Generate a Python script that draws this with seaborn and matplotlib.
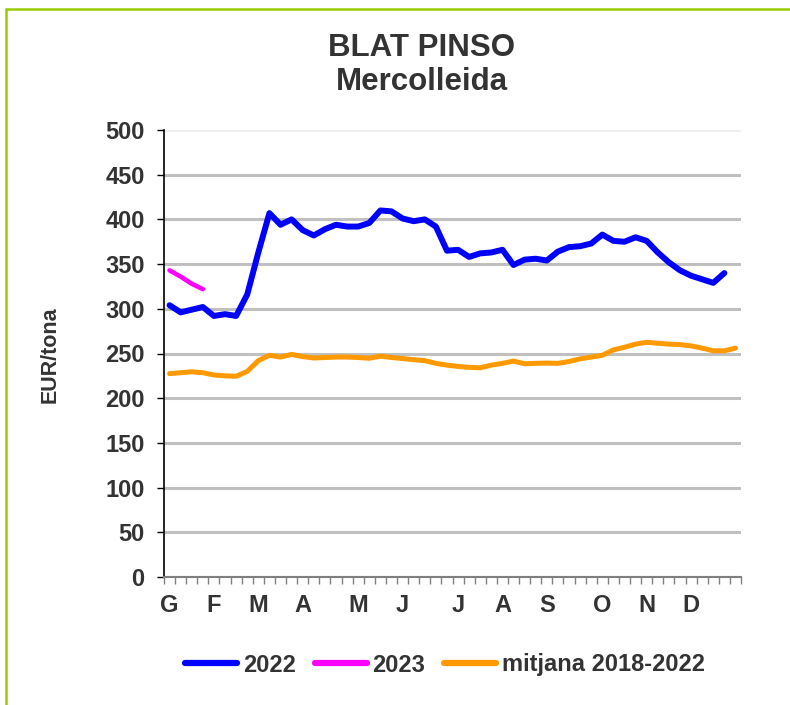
import pandas as pd
import matplotlib
matplotlib.use('Agg')
import matplotlib.pyplot as plt
from matplotlib.lines import Line2D
import seaborn as sns

# weekly prices, EUR/tona (week 0 = first week of January)
preu_2022 = [304, 296, 299, 302, 292, 294, 292, 316, 363, 407,
             394, 400, 388, 382, 389, 394, 392, 392, 396, 410,
             409, 401, 398, 400, 392, 365, 366, 358, 362, 363,
             366, 349, 355, 356, 354, 364, 369, 370, 373, 383,
             376, 375, 380, 376, 363, 352, 343, 337, 333, 329,
             340]
preu_2023 = [343, 336, 328, 322]
mitjana = [227.5, 228.5, 229.5, 228.5, 226, 225, 224.5, 230, 242, 248,
           246, 249, 246.5, 245, 245.5, 246, 246, 245.5, 244.7, 247,
           245.5, 244.4, 243, 242, 239, 237, 235.5, 234.5, 234, 237,
           239, 241.5, 238.5, 239, 239.3, 239, 241, 244, 246, 248,
           254, 257, 260.5, 262.5, 261.5, 260.5, 260, 258.5, 256, 253,
           253, 256]

mesos = ['G', 'F', 'M', 'A', 'M', 'J', 'J', 'A', 'S', 'O', 'N', 'D']
mesos_setmana = [0, 4, 8, 12, 17, 21, 26, 30, 34, 39, 43, 47]
n_setmanes = 52

df_2022 = pd.DataFrame({'setmana': range(len(preu_2022)), 'preu': preu_2022})
df_2023 = pd.DataFrame({'setmana': range(len(preu_2023)), 'preu': preu_2023})
df_mitjana = pd.DataFrame({'setmana': range(len(mitjana)), 'preu': mitjana})

sns.set_style('white')
plt.rcParams['font.family'] = ['Liberation Sans', 'DejaVu Sans']
text_color = '#333333'

fig = plt.figure(figsize=(7.9, 7.05), dpi=100)
ax = fig.add_axes([164 / 790, 1 - 577 / 705, 577 / 790, 447 / 705])

sns.lineplot(data=df_mitjana, x='setmana', y='preu', ax=ax, color='#ff9900',
             linewidth=3.6, solid_capstyle='round', solid_joinstyle='round')
sns.lineplot(data=df_2022, x='setmana', y='preu', ax=ax, color='#0000ff',
             linewidth=4.3, solid_capstyle='round', solid_joinstyle='round')
sns.lineplot(data=df_2023, x='setmana', y='preu', ax=ax, color='#ff00ff',
             linewidth=3.3, solid_capstyle='round', solid_joinstyle='round')

ax.set_xlim(-0.5, n_setmanes - 0.5)
ax.set_ylim(0, 500)
ax.set_xlabel('')
ax.set_ylabel('')

# week boundaries as tick marks, month letters as labels
ax.set_xticks([i - 0.5 for i in range(n_setmanes + 1)])
ax.set_xticklabels([])
ax.set_xticks(mesos_setmana, minor=True)
ax.set_xticklabels(mesos, minor=True, fontsize=17, fontweight='bold', color=text_color)
ax.tick_params(axis='x', which='major', length=5, width=1, color='#808080', direction='out', bottom=True)
ax.tick_params(axis='x', which='minor', length=0, pad=12, bottom=True)

ax.set_yticks(range(0, 501, 50))
ax.set_yticklabels([str(v) for v in range(0, 501, 50)], fontsize=17,
                   fontweight='bold', color=text_color)
ax.tick_params(axis='y', length=5, width=1, color='black', direction='out', pad=9, left=True)

ax.yaxis.grid(True, color='#c0c0c0', linewidth=2.2)
ax.xaxis.grid(False)
ax.yaxis.get_gridlines()[-1].set_color('#eeeeee')
ax.set_axisbelow(True)

for side in ['top', 'right']:
    ax.spines[side].set_visible(False)
ax.spines['left'].set_color('black')
ax.spines['left'].set_linewidth(1.2)
ax.spines['bottom'].set_color('#808080')
ax.spines['bottom'].set_linewidth(1.5)

fig.text(422 / 790, 1 - 65 / 705, 'BLAT PINSO\nMercolleida', ha='center', va='center',
         fontsize=22.5, fontweight='bold', color=text_color, linespacing=1.15)
fig.text(50 / 790, 1 - 355 / 705, 'EUR/tona', rotation=90, ha='center', va='center',
         fontsize=15.5, fontweight='bold', color=text_color)

handles = [Line2D([], [], color='#0000ff', linewidth=4.5, solid_capstyle='round'),
           Line2D([], [], color='#ff00ff', linewidth=4.5, solid_capstyle='round'),
           Line2D([], [], color='#ff9900', linewidth=4.5, solid_capstyle='round')]
leg = fig.legend(handles, ['2022', '2023', 'mitjana 2018-2022'], loc='center',
                 bbox_to_anchor=(445 / 790, 1 - 665 / 705), ncol=3, frameon=False,
                 handlelength=2.2, handletextpad=0.25, columnspacing=0.8,
                 prop={'size': 17, 'weight': 'bold'})
for t in leg.get_texts():
    t.set_color(text_color)

# green frame (left and top edges)
frame_kw = dict(color='#99cc00', linewidth=1.8, transform=fig.transFigure)
fig.add_artist(Line2D([6 / 790, 6 / 790], [0, 1 - 9 / 705], **frame_kw))
fig.add_artist(Line2D([6 / 790, 1], [1 - 9 / 705, 1 - 9 / 705], **frame_kw))

fig.savefig('out.png', dpi=100)
